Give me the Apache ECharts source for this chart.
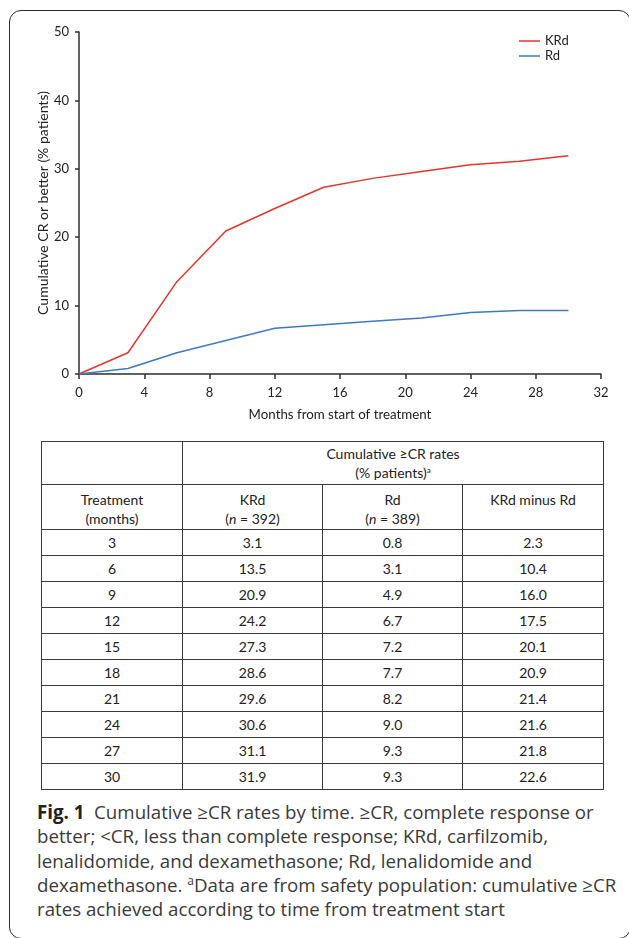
<!DOCTYPE html>
<html>
<head>
<meta charset="utf-8">
<script src="https://cdn.jsdelivr.net/npm/echarts@6/dist/echarts.min.js"></script>
<style>
  html, body { margin: 0; padding: 0; background: #fff; }
  body { width: 629px; height: 938px; position: relative; overflow: hidden; font-family: Lato, "Open Sans", sans-serif; }
  #frame { position: absolute; left: 9px; top: 10px; width: 622px; height: 929px; box-sizing: border-box;
           border: 1.5px solid #2a2a2a; border-radius: 12px; }
  #chart { position: absolute; left: 0; top: 0; width: 629px; height: 430px; }
  #tbl { position: absolute; left: 41px; top: 441px; width: 562px; border-collapse: collapse; table-layout: fixed;
         font-family: Lato, sans-serif; font-size: 14px; color: #222; }
  #tbl td { border: 1.5px solid #3a3a3a; text-align: center; padding: 0; line-height: 19px; }
  #tbl tr.h1 { height: 43px; }
  #tbl tr.h1 td { vertical-align: middle; }
  #tbl tr.h2 { height: 45px; }
  #tbl tr.h2 td { vertical-align: top; padding-top: 5px; }
  #tbl tr.d { height: 26px; }
  #tbl tr.d td { vertical-align: middle; line-height: 18px; }
  #tbl sup { font-size: 8px; vertical-align: 5px; line-height: 0; }
  #cap { position: absolute; left: 37px; top: 800px; width: 590px; font-family: "Open Sans", sans-serif;
         font-size: 18.7px; line-height: 24.3px; color: #3a3a3a; white-space: nowrap; }
  #cap b { color: #222; }
  #cap sup { font-size: 12px; vertical-align: 7px; line-height: 0; }
</style>
</head>
<body>
<div id="frame"></div>
<div id="chart"></div>
<table id="tbl"></table>
<div id="cap">
<b>Fig. 1</b>&nbsp; Cumulative ≥CR rates by time. ≥CR, complete response or<br>
better; &lt;CR, less than complete response; KRd, carfilzomib,<br>
lenalidomide, and dexamethasone; Rd, lenalidomide and<br>
dexamethasone. <sup>a</sup>Data are from safety population: cumulative ≥CR<br>
rates achieved according to time from treatment start
</div>
<script>
// ---- data ----
const months = [0, 3, 6, 9, 12, 15, 18, 21, 24, 27, 30];
const krdValues = [0, 3.1, 13.5, 20.9, 24.2, 27.3, 28.6, 29.6, 30.6, 31.1, 31.9];
const rdValues = [0, 0.8, 3.1, 4.9, 6.7, 7.2, 7.7, 8.2, 9.0, 9.3, 9.3];
const tableMonths = [3, 6, 9, 12, 15, 18, 21, 24, 27, 30];
const tableKRd = ['3.1', '13.5', '20.9', '24.2', '27.3', '28.6', '29.6', '30.6', '31.1', '31.9'];
const tableRd = ['0.8', '3.1', '4.9', '6.7', '7.2', '7.7', '8.2', '9.0', '9.3', '9.3'];
const tableDiff = ['2.3', '10.4', '16.0', '17.5', '20.1', '20.9', '21.4', '21.6', '21.8', '22.6'];
const seriesNames = ['KRd', 'Rd'];
const xTicks = { min: 0, max: 32, interval: 4 };
const yTicks = { min: 0, max: 50, interval: 10 };

// ---- table ----
const tbl = document.getElementById('tbl');
let html = '<colgroup><col style="width:141px"><col style="width:140px"><col style="width:140px"><col style="width:141px"></colgroup>';
html += '<tr class="h1"><td></td><td colspan="3">Cumulative ≥CR rates<br>(% patients)<sup>a</sup></td></tr>';
html += '<tr class="h2"><td>Treatment<br>(months)</td><td>KRd<br>(<i>n</i> = 392)</td><td>Rd<br>(<i>n</i> = 389)</td><td>KRd minus Rd</td></tr>';
tableMonths.forEach((m, i) => {
  html += '<tr class="d"><td>' + m + '</td><td>' + tableKRd[i] + '</td><td>' + tableRd[i] + '</td><td>' + tableDiff[i] + '</td></tr>';
});
tbl.innerHTML = html;

// ---- chart ----
const chart = echarts.init(document.getElementById('chart'), null, { renderer: 'canvas' });
const axisColor = '#2e2e2e';
const font = 'Lato, sans-serif';
chart.setOption({
  animation: false,
  backgroundColor: 'transparent',
  grid: { left: 79, right: 28, top: 32, bottom: 56, containLabel: false },
  legend: {
    orient: 'vertical', left: 519, top: 33.5, padding: 0, icon: 'rect', itemWidth: 21, itemHeight: 1.5, itemGap: 0,
    textStyle: { fontFamily: font, fontSize: 13, color: '#222', lineHeight: 15 },
    data: seriesNames
  },
  xAxis: {
    type: 'value', min: xTicks.min, max: xTicks.max, interval: xTicks.interval, offset: 3,
    axisLine: { show: true, lineStyle: { color: axisColor, width: 1.5 } },
    axisTick: { show: true, length: 5, lineStyle: { color: axisColor, width: 1.5 } },
    axisLabel: { color: '#222', fontFamily: font, fontSize: 13, margin: 9 },
    splitLine: { show: false },
    name: 'Months from start of treatment', nameLocation: 'middle', nameGap: 31,
    nameTextStyle: { fontFamily: font, fontSize: 13.3, color: '#222' }
  },
  yAxis: {
    type: 'value', min: yTicks.min, max: yTicks.max, interval: yTicks.interval, offset: 2,
    axisLine: { show: true, lineStyle: { color: axisColor, width: 1.5 } },
    axisTick: { show: true, length: 4, lineStyle: { color: axisColor, width: 1.5 } },
    axisLabel: { color: '#222', fontFamily: font, fontSize: 13, margin: 8 },
    splitLine: { show: false },
    name: 'Cumulative CR or better (% patients)', nameLocation: 'middle', nameGap: 27, nameMoveOverlap: false,
    nameTextStyle: { fontFamily: font, fontSize: 14, color: '#222' }
  },
  series: [
    { name: seriesNames[0], type: 'line', symbol: 'none', color: '#e8352c',
      lineStyle: { width: 1.5, color: '#e8352c' },
      data: months.map((m, i) => [m, krdValues[i]]) },
    { name: seriesNames[1], type: 'line', symbol: 'none', color: '#3b7bc2',
      lineStyle: { width: 1.5, color: '#3b7bc2' },
      data: months.map((m, i) => [m, rdValues[i]]) }
  ]
});
</script>
</body>
</html>
